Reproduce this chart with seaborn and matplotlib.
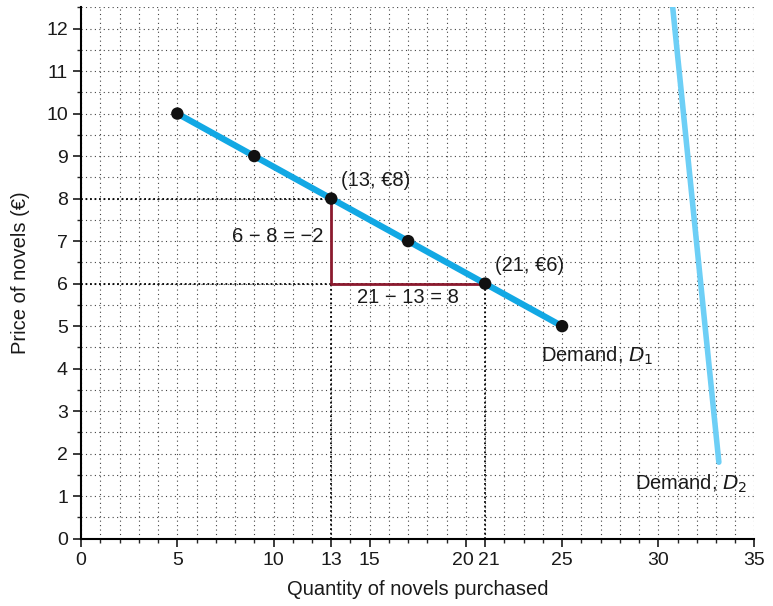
import numpy as np
import pandas as pd
import matplotlib
matplotlib.use("Agg")
import matplotlib.pyplot as plt
import matplotlib.transforms as mtransforms
from matplotlib.ticker import MultipleLocator
import seaborn as sns

# demand curve D1 (quantity, price)
qty_d1 = [5, 9, 13, 17, 21, 25]
price_d1 = [10, 9, 8, 7, 6, 5]

# demand curve D2 (steep, no dots)
qty_d2 = [30.75, 33.15]
price_d2 = [12.5, 1.8]

# the two highlighted points
pt_a = (13, 8)
pt_b = (21, 6)

x_ticks = [0, 5, 10, 13, 15, 20, 21, 25, 30, 35]
x_labels = ["0", "5", "10", "13", "15", "20", "21", "25", "30", "35"]
y_ticks = list(range(0, 13))

sns.set_style("white")
plt.rcParams['font.family'] = ['Liberation Sans', 'DejaVu Sans']
plt.rcParams['text.color'] = '#1a1a1a'
plt.rcParams['axes.labelcolor'] = '#1a1a1a'

fig = plt.figure(figsize=(7.73, 6.06), dpi=100)
ax = fig.add_axes([0.105, 0.111, 0.871, 0.877])

d1 = pd.DataFrame({"q": qty_d1, "p": price_d1})
d2 = pd.DataFrame({"q": qty_d2, "p": price_d2})

# dotted grid
ax.xaxis.set_minor_locator(MultipleLocator(1))
ax.yaxis.set_minor_locator(MultipleLocator(0.5))
ax.grid(True, which="both", color="#444444", linestyle=(0, (1, 3)), linewidth=0.8)
ax.set_axisbelow(True)

# guide lines to the axes
dot = dict(color="black", linestyle=(0, (1, 1.5)), linewidth=1.3)
ax.plot([0, pt_a[0]], [pt_a[1], pt_a[1]], **dot)
ax.plot([0, pt_b[0]], [pt_b[1], pt_b[1]], **dot)
ax.plot([pt_a[0], pt_a[0]], [0, pt_b[1]], **dot)
ax.plot([pt_b[0], pt_b[0]], [0, pt_b[1]], **dot)

# rise / run triangle
ax.plot([pt_a[0], pt_a[0], pt_b[0]], [pt_a[1], pt_b[1], pt_b[1]], color="#8b1a2e", linewidth=2)

sns.lineplot(data=d2, x="q", y="p", ax=ax, color="#6dcff6", linewidth=4, sort=False)
sns.lineplot(data=d1, x="q", y="p", ax=ax, color="#12a8e4", linewidth=4.5)
sns.scatterplot(data=d1, x="q", y="p", ax=ax, color="#111111", s=80, zorder=5, edgecolor="none")

fs = 14.5
ax.text(13.5, 8.2, "(13, €8)", fontsize=fs, va="bottom")
ax.text(21.5, 6.2, "(21, €6)", fontsize=fs, va="bottom")
ax.text(12.6, 7.1, "6 − 8 = −2", fontsize=fs, ha="right", va="center")
ax.text(17, 5.68, "21 − 13 = 8", fontsize=fs, ha="center", va="center")
ax.text(23.9, 4.3, "Demand, $D_1$", fontsize=fs, va="center")
ax.text(28.8, 1.3, "Demand, $D_2$", fontsize=fs, va="center")

ax.set_xlim(0, 35)
ax.set_ylim(0, 12.5)
ax.set_xticks(x_ticks)
ax.set_xticklabels(x_labels)
ax.set_yticks(y_ticks)
ax.tick_params(axis="both", which="major", direction="out", length=6, width=1.2, labelsize=14, colors="#1a1a1a")
ax.tick_params(axis="both", which="minor", direction="out", length=3, width=1)
ax.tick_params(axis="x", bottom=True)
ax.tick_params(axis="y", left=True)
ax.tick_params(axis="x", which="minor", bottom=True)
ax.tick_params(axis="y", which="minor", left=True)

# nudge the crowded 20 / 21 labels apart
for lab in ax.get_xticklabels():
    if lab.get_text() == "20":
        lab.set_transform(lab.get_transform() + mtransforms.ScaledTranslation(-2 / 72, 0, fig.dpi_scale_trans))
    if lab.get_text() == "21":
        lab.set_transform(lab.get_transform() + mtransforms.ScaledTranslation(3 / 72, 0, fig.dpi_scale_trans))

for s in ["top", "right"]:
    ax.spines[s].set_visible(False)
for s in ["left", "bottom"]:
    ax.spines[s].set_color("black")
    ax.spines[s].set_linewidth(1.5)

ax.set_xlabel("Quantity of novels purchased", fontsize=fs, labelpad=8)
ax.set_ylabel("Price of novels (€)", fontsize=fs, labelpad=12)

fig.savefig("out.png", dpi=100)
